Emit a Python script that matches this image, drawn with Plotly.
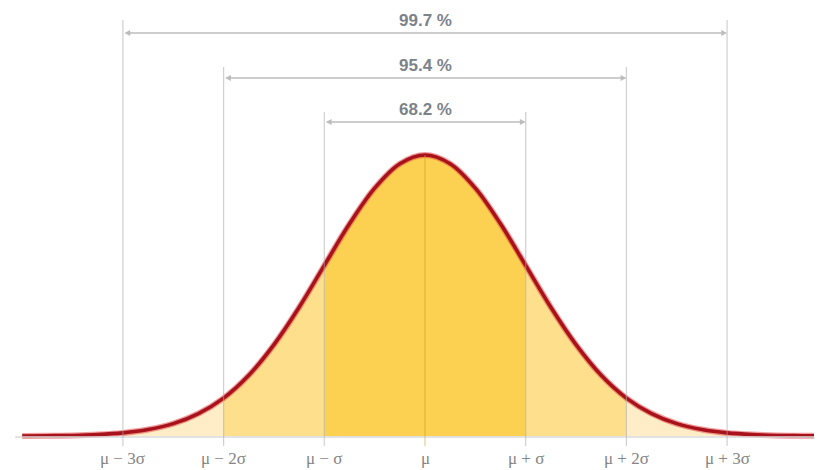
import plotly.graph_objects as go

# Standardised positions (in units of sigma) and curve heights
z = [-4.0, -3.75, -3.5, -3.25, -3.0, -2.75, -2.5, -2.25, -2.0, -1.75, -1.5, -1.25,
     -1.0, -0.75, -0.5, -0.25, 0.0, 0.25, 0.5, 0.75, 1.0, 1.25, 1.5, 1.75, 2.0, 2.25,
     2.5, 2.75, 3.0, 3.25, 3.5, 3.75, 4.0]
h = [0.000, 0.001, 0.002, 0.005, 0.011, 0.023, 0.044, 0.080, 0.135, 0.216, 0.325, 0.458,
     0.607, 0.755, 0.882, 0.969, 1.000, 0.969, 0.882, 0.755, 0.607, 0.458, 0.325, 0.216, 0.135, 0.080,
     0.044, 0.023, 0.011, 0.005, 0.002, 0.001, 0.000]

tick_pos = [-3, -2, -1, 0, 1, 2, 3]
tick_labels = ["μ − 3σ", "μ − 2σ", "μ − σ", "μ", "μ + σ", "μ + 2σ", "μ + 3σ"]

bands = [1, 2, 3]
band_pct = ["68.2 %", "95.4 %", "99.7 %"]

fill_colors = {1: "#FCD050", 2: "#FDDF8C", 3: "#FEEDC6"}

# the page body has an 8px margin; figure is sized to fill the rest of the window
OFF = 8
W, H = 822 - OFF, 470 - OFF

# page-pixel helper for layout geometry (y data: 0 = baseline at 436px, 1 = peak at 155px)
def py(p):
    return (436 - p) / 281.0

fig = go.Figure()

def seg(a, b):
    xs = [zz for zz in z if a - 1e-9 <= zz <= b + 1e-9]
    ys = [h[z.index(zz)] for zz in xs]
    return xs, ys

# fills: outer bands first
for k in [3, 2]:
    for (a, b) in [(-k, -(k - 1)), (k - 1, k)]:
        xs, ys = seg(a, b)
        fig.add_trace(go.Scatter(x=xs, y=ys, mode="lines", line=dict(width=0, shape="spline"),
                                 fill="tozeroy", fillcolor=fill_colors[k], hoverinfo="skip",
                                 showlegend=False))
xs, ys = seg(-1, 1)
fig.add_trace(go.Scatter(x=xs, y=ys, mode="lines", line=dict(width=0, shape="spline"),
                         fill="tozeroy", fillcolor=fill_colors[1], hoverinfo="skip", showlegend=False))

shapes = []
# baseline
shapes.append(dict(type="line", xref="x", yref="y", x0=-4.07, x1=3.95, y0=py(437), y1=py(437),
                   line=dict(color="#D9D9D9", width=1.5)))
tops = {3: py(20), 2: py(67), 1: py(112)}
for k in bands:
    for s in [-1, 1]:
        shapes.append(dict(type="line", xref="x", yref="y", x0=s * k, x1=s * k,
                           y0=py(446), y1=tops[k], line=dict(color="rgba(170,170,170,0.55)", width=1.2)))
shapes.append(dict(type="line", xref="x", yref="y", x0=0, x1=0, y0=py(446), y1=1.0,
                   line=dict(color="rgba(200,160,40,0.5)", width=1.2)))

# curve on top (halo + core)
fig.add_trace(go.Scatter(x=z, y=h, mode="lines", line=dict(color="rgba(225,60,60,0.5)", width=6, shape="spline"),
                         hoverinfo="skip", showlegend=False))
fig.add_trace(go.Scatter(x=z, y=h, mode="lines", line=dict(color="#A8121C", width=3.6, shape="spline"),
                         hoverinfo="skip", showlegend=False))

annotations = []
line_y = {3: py(33), 2: py(78), 1: py(122)}
text_y = {3: py(20), 2: py(65), 1: py(109)}
for k, pct in zip(bands, band_pct):
    annotations.append(dict(x=k, y=line_y[k], ax=-k, ay=line_y[k], xref="x", yref="y",
                            axref="x", ayref="y", text="", showarrow=True, arrowhead=2,
                            arrowside="end+start", arrowsize=0.9, arrowwidth=1.3,
                            arrowcolor="#BDBDBD"))
    annotations.append(dict(x=0, y=text_y[k], xref="x", yref="y", text="<b>%s</b>" % pct,
                            showarrow=False, font=dict(family="Liberation Sans, Arial", size=17,
                                                        color="#7C8289")))
for p, t in zip(tick_pos, tick_labels):
    annotations.append(dict(x=p, y=py(458), xref="x", yref="y", text=t, showarrow=False,
                            font=dict(family="Liberation Serif, Times New Roman", size=17, color="#858585")))

mu_px = 425 - OFF
sig_px = 100.7
fig.update_layout(
    width=W, height=H, margin=dict(l=0, r=0, t=0, b=0),
    paper_bgcolor="white", plot_bgcolor="white",
    xaxis=dict(range=[-mu_px / sig_px, (W - mu_px) / sig_px], visible=False, fixedrange=True),
    yaxis=dict(range=[py(470), py(OFF)], visible=False, fixedrange=True),
    shapes=shapes, annotations=annotations, showlegend=False,
)

fig.write_html("out.html")
